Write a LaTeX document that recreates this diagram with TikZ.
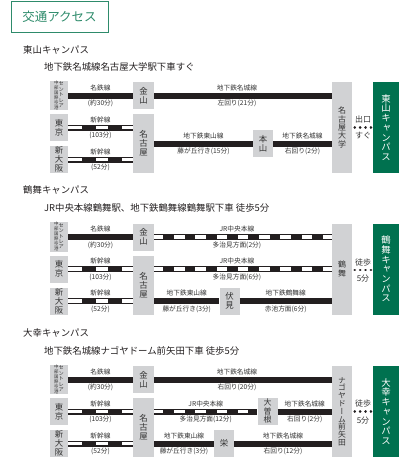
\documentclass[tikz,border=0pt]{standalone}
\usepackage{fontspec}
\setmainfont{Noto Sans CJK JP}
\newfontfamily\jpv[RawFeature=+vert]{Noto Sans CJK JP}
\usetikzlibrary{calc}
\definecolor{linecol}{HTML}{231F20}
\definecolor{boxgray}{HTML}{D1D2D4}
\definecolor{campus}{HTML}{00714F}
\definecolor{titlegreen}{HTML}{2E8B6B}
\definecolor{labgray}{HTML}{333333}
\newcommand\rlab[6][0.5]{%
  \node[lab] (#2a) at ($(#3)!#1!(#4)+(0,-8)$) {#5};
  \node[lab] (#2b) at ($(#3)!#1!(#4)+(0,8)$) {#6};}
\newcommand\centrairtxt{%
  {\fontsize{4.4}{4.4}\selectfont\begin{tabular}[c]{@{}c@{}}中\\部\\国\\際\\空\\港\end{tabular}}\hspace{0.1pt}%
  {\fontsize{5.2}{5.3}\selectfont\begin{tabular}[c]{@{}c@{}}セ\\ン\\ト\\レ\\ア\end{tabular}}}
\tikzset{
  stbox/.style={fill=boxgray, inner sep=0pt, text=labgray, font=\jpv\fontsize{8.4}{8.9}\selectfont, align=center},
  tallbox/.style={stbox, font=\jpv\fontsize{8}{8.3}\selectfont},
  cbox/.style={fill=campus, inner sep=0pt, text=white, font=\jpv\fontsize{9.4}{9.7}\selectfont, align=center, minimum width=26pt, minimum height=91pt},
  leftbox/.style={stbox, minimum width=18pt, minimum height=27pt},
  midbox/.style={stbox, minimum width=21pt, minimum height=27pt},
  nagbox/.style={stbox, minimum width=21pt, minimum height=59pt},
  smbox/.style={stbox, minimum width=20pt, minimum height=27pt},
  endbox/.style={tallbox, minimum width=20pt, minimum height=91pt},
  blk/.style={draw=linecol, line width=6pt},
  dbl/.style={draw=linecol, line width=6pt, postaction={draw=white, line width=3.6pt}},
  shinkan/.style={dbl, postaction={draw=linecol, line width=6pt, dash pattern=on 0pt off 14pt on 13.5pt off 12.5pt on 13.5pt off 40pt}},
  jrline/.style={dbl, postaction={draw=linecol, line width=6pt, dash pattern=on 10.7pt off 10.6pt, dash phase=12.3pt}},
  lab/.style={font=\fontsize{6.7}{7}\selectfont, text=labgray, inner sep=0pt},
  side/.style={font=\fontsize{8}{9}\selectfont, text=labgray, inner sep=0pt},
  dotsline/.style={draw=linecol, line width=2.7pt, line cap=round, dash pattern=on 0.1pt off 5.3pt, shorten <=2.5pt, shorten >=0.8pt},
  sect/.style={anchor=west, inner sep=0pt, text=linecol, font=\fontsize{9.4}{10}\selectfont},
}
\begin{document}
\begin{tikzpicture}[x=1pt,y=-1pt]
\useasboundingbox (0,0) rectangle (414,472);
\node[draw=titlegreen, line width=1pt, minimum width=97pt, minimum height=31pt, inner sep=0pt, text=titlegreen, font=\fontsize{12.5}{13}\selectfont] (title) at (59.5,16.5) {交通アクセス};

% ---------------- Section 1
\node[sect] (s1) at (23,50) {東山キャンパス};
\node[sect] (s1s) at (44,67) {地下鉄名城線名古屋大学駅下車すぐ};
\node[leftbox] (c1) at (59,95.5) {\centrairtxt};
\node[midbox] (kan1) at (143.5,95.5) {金\\山};
\node[leftbox] (tok1) at (59,127.5) {東\\京};
\node[leftbox] (osa1) at (59,159.5) {新\\大\\阪};
\node[nagbox] (nag1) at (143.5,143.5) {名\\古\\屋};
\node[smbox] (moto) at (263,143.5) {本\\山};
\node[endbox] (meidai) at (342,127.5) {名\\古\\屋\\大\\学};
\node[cbox] (g1) at (386,127.5) {東\\山\\キ\\ャ\\ン\\パ\\ス};
\coordinate (e1a) at (kan1.east -| meidai.west);
\coordinate (e1b) at (tok1.east -| nag1.west);
\coordinate (e1c) at (osa1.east -| nag1.west);
\coordinate (e1d) at (moto.east -| meidai.west);
\coordinate (d1) at (meidai.east |- 0,127.3);
\coordinate (d1e) at (g1.west |- 0,127.3);
\draw[blk] (c1.east) -- (kan1.west);
\draw[blk] (kan1.east) -- (e1a);
\draw[shinkan] (tok1.east) -- (e1b);
\draw[shinkan] (osa1.east) -- (e1c);
\draw[blk] (nag1.east) -- (moto.west);
\draw[blk] (moto.east) -- (e1d);
\draw[dotsline] (d1) -- (d1e);
\rlab{l1a}{c1.east}{kan1.west}{名鉄線}{(約30分)}
\rlab[0.466]{l1b}{kan1.east}{e1a}{地下鉄名城線}{左回り(21分)}
\rlab{l1c}{tok1.east}{e1b}{新幹線}{(103分)}
\rlab{l1d}{osa1.east}{e1c}{新幹線}{(52分)}
\rlab{l1e}{nag1.east}{moto.west}{地下鉄東山線}{藤が丘行き(15分)}
\rlab{l1f}{moto.east}{e1d}{地下鉄名城線}{右回り(2分)}
\node[side] (x1a) at (363,119.5) {出口};
\node[side] (x1b) at (363,136) {すぐ};

% ---------------- Section 2
\node[sect] (s2) at (23,190) {鶴舞キャンパス};
\node[sect] (s2s) at (44,208) {JR中央本線鶴舞駅、地下鉄鶴舞線鶴舞駅下車 徒歩5分};
\node[leftbox] (c2) at (59,237) {\centrairtxt};
\node[midbox] (kan2) at (143.5,237) {金\\山};
\node[leftbox] (tok2) at (59,269) {東\\京};
\node[leftbox] (osa2) at (59,301) {新\\大\\阪};
\node[nagbox] (nag2) at (143.5,285) {名\\古\\屋};
\node[smbox] (fushimi) at (229.5,301) {伏\\見};
\node[endbox] (tsuru) at (342,269) {鶴\\舞};
\node[cbox] (g2) at (386,269) {鶴\\舞\\キ\\ャ\\ン\\パ\\ス};
\coordinate (e2a) at (kan2.east -| tsuru.west);
\coordinate (e2b) at (tok2.east -| nag2.west);
\coordinate (b2c) at (tok2.east -| nag2.east);
\coordinate (e2c) at (tok2.east -| tsuru.west);
\coordinate (e2d) at (osa2.east -| nag2.west);
\coordinate (b2e) at (osa2.east -| nag2.east);
\coordinate (e2f) at (fushimi.east -| tsuru.west);
\coordinate (d2) at (tsuru.east |- 0,270);
\coordinate (d2e) at (g2.west |- 0,270);
\draw[blk] (c2.east) -- (kan2.west);
\draw[jrline] (kan2.east) -- (e2a);
\draw[shinkan] (tok2.east) -- (e2b);
\draw[jrline] (b2c) -- (e2c);
\draw[shinkan] (osa2.east) -- (e2d);
\draw[blk] (b2e) -- (fushimi.west);
\draw[blk] (fushimi.east) -- (e2f);
\draw[dotsline] (d2) -- (d2e);
\rlab{l2a}{c2.east}{kan2.west}{名鉄線}{(約30分)}
\rlab[0.466]{l2b}{kan2.east}{e2a}{JR中央本線}{多治見方面(2分)}
\rlab{l2c}{tok2.east}{e2b}{新幹線}{(103分)}
\rlab[0.466]{l2d}{b2c}{e2c}{JR中央本線}{多治見方面(6分)}
\rlab{l2e}{osa2.east}{e2d}{新幹線}{(52分)}
\rlab{l2f}{b2e}{fushimi.west}{地下鉄東山線}{藤が丘行き(3分)}
\rlab{l2g}{fushimi.east}{e2f}{地下鉄鶴舞線}{赤池方面(6分)}
\node[side] (x2a) at (363,262) {徒歩};
\node[side] (x2b) at (363,279) {5分};

% ---------------- Section 3
\node[sect] (s3) at (23,333) {大幸キャンパス};
\node[sect] (s3s) at (44,350.5) {地下鉄名城線ナゴヤドーム前矢田下車 徒歩5分};
\node[leftbox] (c3) at (59,379.5) {\centrairtxt};
\node[midbox] (kan3) at (143.5,379.5) {金\\山};
\node[leftbox] (tok3) at (59,411.5) {東\\京};
\node[leftbox] (osa3) at (59,443.5) {新\\大\\阪};
\node[nagbox] (nag3) at (143.5,427.5) {名\\古\\屋};
\node[smbox, font=\jpv\fontsize{8}{8.4}\selectfont] (ozone) at (267.5,411) {大\\曽\\根};
\node[smbox] (sakae) at (224,443.5) {栄};
\node[endbox, font=\jpv\fontsize{7.8}{7.8}\selectfont] (dome) at (342,411.5) {ナ\\ゴ\\ヤ\\ド\\ー\\ム\\前\\矢\\田};
\node[cbox] (g3) at (386,411.5) {大\\幸\\キ\\ャ\\ン\\パ\\ス};
\coordinate (e3a) at (kan3.east -| dome.west);
\coordinate (e3b) at (tok3.east -| nag3.west);
\coordinate (b3c) at (tok3.east -| nag3.east);
\coordinate (e3c) at (tok3.east -| ozone.west);
\coordinate (b3d) at (tok3.east -| ozone.east);
\coordinate (e3d) at (tok3.east -| dome.west);
\coordinate (e3e) at (osa3.east -| nag3.west);
\coordinate (b3f) at (osa3.east -| nag3.east);
\coordinate (e3g) at (sakae.east -| dome.west);
\coordinate (d3) at (dome.east |- 0,411.5);
\coordinate (d3e) at (g3.west |- 0,411.5);
\draw[blk] (c3.east) -- (kan3.west);
\draw[blk] (kan3.east) -- (e3a);
\draw[shinkan] (tok3.east) -- (e3b);
\draw[jrline] (b3c) -- (e3c);
\draw[blk] (b3d) -- (e3d);
\draw[shinkan] (osa3.east) -- (e3e);
\draw[blk] (b3f) -- (sakae.west);
\draw[blk] (sakae.east) -- (e3g);
\draw[dotsline] (d3) -- (d3e);
\rlab{l3a}{c3.east}{kan3.west}{名鉄線}{(約30分)}
\rlab[0.466]{l3b}{kan3.east}{e3a}{地下鉄名城線}{右回り(20分)}
\rlab{l3c}{tok3.east}{e3b}{新幹線}{(103分)}
\rlab{l3d}{b3c}{e3c}{JR中央本線}{多治見方面(12分)}
\rlab{l3e}{b3d}{e3d}{地下鉄名城線}{右回り(2分)}
\rlab{l3f}{osa3.east}{e3e}{新幹線}{(52分)}
\rlab{l3g}{b3f}{sakae.west}{地下鉄東山線}{藤が丘行き(3分)}
\rlab{l3h}{sakae.east}{e3g}{地下鉄名城線}{右回り(12分)}
\node[side] (x3a) at (363,403.5) {徒歩};
\node[side] (x3b) at (363,420.5) {5分};
\end{tikzpicture}
\end{document}
